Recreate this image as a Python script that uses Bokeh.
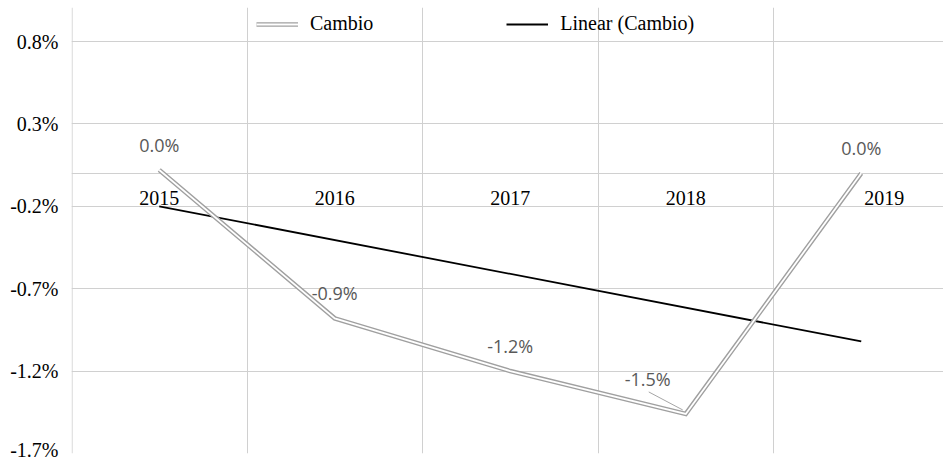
from bokeh.plotting import figure
from bokeh.models import (ColumnDataSource, FixedTicker, CustomJSTickFormatter, Range1d,
                          Legend, LegendItem, Span)
from bokeh.core.properties import value
from bokeh.embed import file_html
from bokeh.resources import INLINE

# ---- data ----
categories = ["2015", "2016", "2017", "2018", "2019"]
cambio = [0.02, -0.88, -1.20, -1.46, 0.00]          # percent
trend_years = ["2015", "2019"]
trend_values = [-0.20, -1.02]                        # Linear (Cambio), percent
y_ticks = [-1.7, -1.2, -0.7, -0.2, 0.3, 0.8]

xs = [categories.index(c) + 1 for c in categories]
trend_xs = [categories.index(c) + 1 for c in trend_years]
labels = [f"{v:.1f}%" for v in cambio]

SERIF = value("Liberation Serif")
SANS = value("Open Sans")
GRID = "#D0D0D0"

W, H = 943, 460
LEFT, TOP, BOTTOM = 71, 7, 7
FW, FH = W - LEFT, H - TOP - BOTTOM
SX, SY = 175.5, 164.8
X0, X1 = 0.5, 0.5 + FW / SX
Y0, Y1 = -1.7, -1.7 + FH / SY

p = figure(width=W, height=H, output_backend="svg", toolbar_location=None,
           x_range=Range1d(X0, X1), y_range=Range1d(Y0, Y1),
           min_border_left=LEFT, min_border_right=0, min_border_top=TOP,
           min_border_bottom=BOTTOM)
p.outline_line_color = None
p.xaxis.visible = False

ya = p.yaxis[0]
ya.ticker = FixedTicker(ticks=y_ticks)
ya.formatter = CustomJSTickFormatter(code="return tick.toFixed(1) + '%';")
ya.axis_line_color = None
ya.major_tick_line_color = None
ya.minor_tick_line_color = None
ya.major_tick_out = 0
ya.major_label_text_font = "Liberation Serif"
ya.major_label_text_font_size = "20px"
ya.major_label_text_color = "#000000"
ya.major_label_standoff = 13

p.ygrid[0].ticker = FixedTicker(ticks=y_ticks + [0.0])
p.ygrid[0].grid_line_color = GRID
p.xgrid[0].ticker = FixedTicker(ticks=[i + 1.5 for i in range(len(categories) - 1)])
p.xgrid[0].grid_line_color = GRID
# left border of the plot area
p.add_layout(Span(location=X0 + 0.6 / SX, dimension="height", line_color=GRID, line_width=1))

# category labels sitting on the zero line
cat_src = ColumnDataSource(dict(x=xs, y=[0.0] * len(xs), t=categories,
                                dx=[0, 0, 0, 0, 23]))
p.text(x="x", y="y", text="t", source=cat_src, x_offset="dx", y_offset=25,
       text_font=SERIF, text_font_size="20px", text_color="#000000",
       text_align="center", text_baseline="middle")

# trend line
r_trend = p.line(trend_xs, trend_values, line_color="#000000", line_width=1.8)

# double (compound) gray line
src = ColumnDataSource(dict(x=xs, y=cambio, t=labels))
r_outer = p.line("x", "y", source=src, line_color="#A0A0A0", line_width=4.6,
                 line_join="miter")
r_inner = p.line("x", "y", source=src, line_color="#FFFFFF", line_width=1.8,
                 line_join="miter")

# data labels
normal = [i for i in range(len(xs)) if i != 3]
lab_src = ColumnDataSource(dict(x=[xs[i] for i in normal], y=[cambio[i] for i in normal],
                                t=[labels[i] for i in normal]))
p.text(x="x", y="y", text="t", source=lab_src, y_offset=-25,
       text_font=SANS, text_font_size="18px", text_color="#595959",
       text_align="center", text_baseline="middle")

# 2018 label with leader line
i = 3
p.text(x=[xs[i]], y=[cambio[i]], text=[labels[i]], x_offset=-38, y_offset=-35,
       text_font=SANS, text_font_size="18px", text_color="#595959",
       text_align="center", text_baseline="middle")
p.segment(x0=[xs[i] - 37 / SX], y0=[cambio[i] + 22 / SY],
          x1=[xs[i] - 3 / SX], y1=[cambio[i] + 4 / SY],
          line_color="#A6A6A6", line_width=1)

legend = Legend(items=[LegendItem(label="Cambio", renderers=[r_outer, r_inner]),
                       LegendItem(label="Linear (Cambio)", renderers=[r_trend])],
                orientation="horizontal", location=(185, FH - 28),
                glyph_width=42, glyph_height=20, label_standoff=12, spacing=133,
                padding=0, margin=0,
                border_line_color=None, background_fill_alpha=0,
                label_text_font="Liberation Serif", label_text_font_size="20px",
                label_text_color="#000000")
p.add_layout(legend)

open("out.html", "w").write(file_html(p, INLINE))
